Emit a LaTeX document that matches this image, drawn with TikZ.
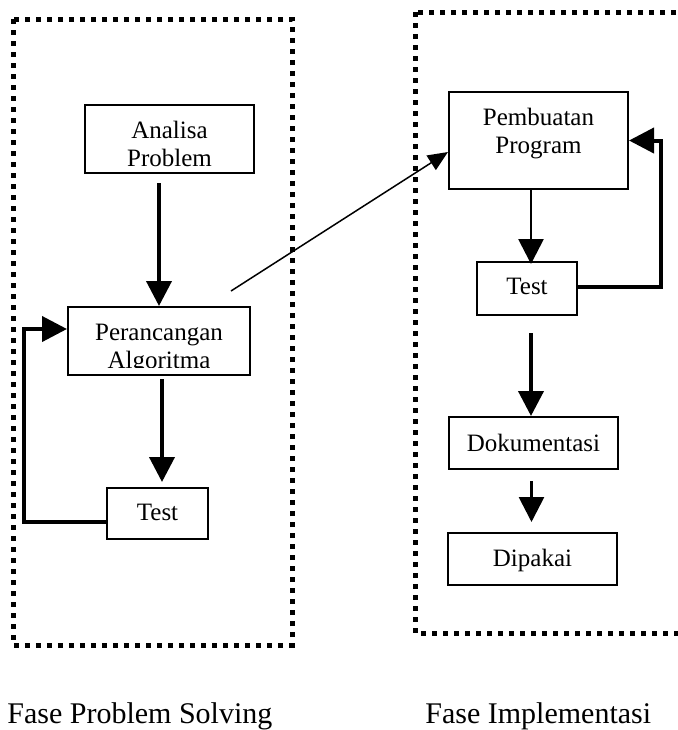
\documentclass[tikz,border=0pt]{standalone}
\usepackage{fontspec}
\setmainfont{Liberation Serif}
\usetikzlibrary{arrows.meta,calc}

\tikzset{
  kotak/.style={draw,line width=1pt,inner sep=0pt},
  isi/.style={font=\fontsize{12.5}{14.4}\selectfont,align=center,inner sep=0pt,anchor=base},
  judul/.style={font=\fontsize{15}{18}\selectfont,inner sep=0pt,anchor=base west},
  bingkai/.style={line width=2.5pt,dash pattern=on 2.5pt off 3pt},
  tebal/.style={line width=2pt,-{Triangle[length=12.5pt,width=12.5pt]}},
  sedang/.style={line width=1.4pt,-{Triangle[length=12.5pt,width=12.5pt]}},
  tipis/.style={line width=0.75pt,-{Triangle[length=10pt,width=8.5pt]}},
}

\begin{document}
\begin{tikzpicture}[x=0.5pt,y=-0.5pt]
\useasboundingbox (0,0) rectangle (678,730);
\clip (0,0) rectangle (678,730);

% frames
\draw[bingkai] (13,19) rectangle (292,645);
\draw[bingkai] (415,12) rectangle (700,633);

% problem solving
\node[kotak,minimum width=84.5pt,minimum height=34pt] (p1) at (169.5,139) {};
\node[kotak,minimum width=91pt,minimum height=34pt] (p2) at (159,341) {};
\node[kotak,minimum width=50.5pt,minimum height=25.5pt] (p3) at (157.5,513.5) {};

\begin{scope}
\clip (p1.north west) rectangle ($(p1.south east)+(0,-8)$);
\node[isi] (t1) at ($(p1.north)+(0,62.8)$) {Analisa\\Problem};
\end{scope}
\begin{scope}
\clip (p2.north west) rectangle ($(p2.south east)+(0,-9)$);
\node[isi] (t2) at ($(p2.north)+(0,62.8)$) {Perancangan\\Algoritma};
\end{scope}
\node[isi] (t3) at ($(p3.north)+(0,33)$) {Test};

% implementasi
\node[kotak,minimum width=89.5pt,minimum height=48.5pt] (q1) at (538.5,140.5) {};
\node[kotak,minimum width=50pt,minimum height=26.5pt] (q2) at (527,288.5) {};
\node[kotak,minimum width=84.5pt,minimum height=26pt] (q3) at (533.5,443) {};
\node[kotak,minimum width=84.5pt,minimum height=26pt] (q4) at (532.5,559) {};

\node[isi] (u1) at ($(q1.north)+(0,62.8)$) {Pembuatan\\Program};
\node[isi] (u2) at ($(q2.north)+(0,33)$) {Test};
\node[isi] (u3) at ($(q3.north)+(0,35)$) {Dokumentasi};
\node[isi] (u4) at ($(q4.north)+(0,34)$) {Dipakai};

% arrows
\draw[tebal] ($(p1.south -| p2.north)+(0,9)$) -- (p2.north);
\draw[tebal] ($(p2.south)+(3,3)$) -- ($(p2.south |- p3.north)+(3,-5)$);
\draw[tebal] ($(p3.west)+(0,8.5)$) -| ($(p2.west)+(-43,-12)$) -- ($(p2.west)+(0,-12)$);

\coordinate (c1) at ($(p2.north east)+(-20,-15)$);
\draw[tipis] (c1) -- ($(q1.west)+(0,11.5)$);

\draw[sedang] ($(q1.south)+(-7.5,0)$) -- ($(q1.south |- q2.north)+(-7.5,3)$);
\draw[tebal] ($(q2.east)+(-2,-1.5)$) -| ($(q1.east)+(32,0)$) -- (q1.east);
\draw[tebal] ($(q2.south)+(4,17)$) -- ($(q2.south |- q3.north)+(4,0)$);
\draw[sedang] ($(q3.south)+(-2,11)$) -- ($(q3.south |- q4.north)+(-2,-10)$);

% labels
\node[judul] (l1) at (7,723) {Fase Problem Solving};
\node[judul] (l2) at (425,723) {Fase Implementasi};

\end{tikzpicture}
\end{document}
